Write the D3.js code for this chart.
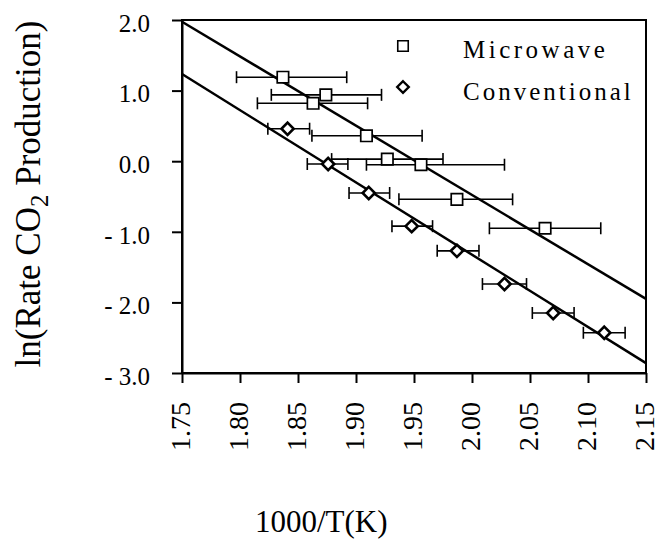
<!DOCTYPE html>
<html>
<head>
<meta charset="utf-8">
<script src="https://cdn.jsdelivr.net/npm/d3@7"></script>
<style>
  body { margin: 0; background: #fff; }
</style>
</head>
<body>
<div id="chart"></div>
<script>
// Microwave heating (squares)
const microX = [1.837, 1.874, 1.863, 1.909, 1.927, 1.956, 1.987, 2.063];
const microY = [1.19, 0.94, 0.82, 0.36, 0.03, -0.05, -0.54, -0.95];
const microLo = [1.797, 1.827, 1.815, 1.862, 1.879, 1.909, 1.937, 2.015];
const microHi = [1.892, 1.922, 1.910, 1.957, 1.975, 2.028, 2.035, 2.111];

// Conventional heating (diamonds)
const convX = [1.841, 1.876, 1.911, 1.948, 1.987, 2.028, 2.070, 2.114];
const convY = [0.46, -0.04, -0.45, -0.92, -1.27, -1.74, -2.15, -2.43];
const convLo = [1.824, 1.858, 1.894, 1.931, 1.970, 2.009, 2.052, 2.096];
const convHi = [1.860, 1.893, 1.929, 1.966, 2.006, 2.047, 2.088, 2.132];

// linear fits, value at each end of the x range
const fitX = [1.75, 2.15];
const microFit = [1.975, -1.95];
const convFit = [1.235, -2.86];

const xTicks = [1.75, 1.80, 1.85, 1.90, 1.95, 2.00, 2.05, 2.10, 2.15];
const yTicks = [2, 1, 0, -1, -2, -3];

const serif = '"Liberation Serif", "Times New Roman", serif';

const margin = { top: 20, right: 16, bottom: 169, left: 182 };
const width = 662 - margin.left - margin.right;
const height = 542 - margin.top - margin.bottom;

const svg = d3.select("#chart")
  .append("svg")
  .attr("width", 662)
  .attr("height", 542)
  .style("font-family", serif)
  .append("g")
  .attr("transform", `translate(${margin.left},${margin.top})`);

const x = d3.scaleLinear().domain([1.75, 2.15]).range([0, width]);
const y = d3.scaleLinear().domain([-3, 2]).range([height, 0]);

// frame
svg.append("rect")
  .attr("width", width)
  .attr("height", height)
  .attr("fill", "none")
  .attr("stroke", "#000")
  .attr("stroke-width", 2);

// Y axis
const yAxis = svg.append("g")
  .call(d3.axisLeft(y).tickValues(yTicks).tickSize(10).tickSizeOuter(0)
    .tickFormat(d => d < 0 ? "- " + d3.format(".1f")(-d) : d3.format(".1f")(d)))
  .attr("font-family", serif);
yAxis.select(".domain").attr("stroke-width", 2);
yAxis.selectAll(".tick line").attr("stroke-width", 2);
yAxis.selectAll(".tick text")
  .attr("x", -32)
  .attr("dy", "0.45em")
  .style("font-family", serif)
  .style("font-size", "25px");

// X axis
const xAxis = svg.append("g")
  .attr("transform", `translate(0,${height})`)
  .call(d3.axisBottom(x).tickValues(xTicks).tickSize(10).tickSizeOuter(0)
    .tickFormat(d3.format(".2f")))
  .attr("font-family", serif);
xAxis.select(".domain").attr("stroke-width", 2);
xAxis.selectAll(".tick line").attr("stroke-width", 2);
xAxis.selectAll(".tick text")
  .attr("transform", "rotate(-90)")
  .attr("x", -29)
  .attr("y", 0)
  .attr("dy", "0.28em")
  .attr("text-anchor", "end")
  .style("font-family", serif)
  .style("font-size", "28px");

// axis titles
svg.append("text")
  .attr("x", x(1.87))
  .attr("y", height + 159)
  .attr("text-anchor", "middle")
  .style("font-family", serif)
  .style("font-size", "31px")
  .text("1000/T(K)");

const yTitle = svg.append("text")
  .attr("transform", `translate(${40 - margin.left},${194 - margin.top}) rotate(-90)`)
  .attr("text-anchor", "middle")
  .style("font-family", serif)
  .style("font-size", "35px");
yTitle.append("tspan").text("ln(Rate CO");
yTitle.append("tspan").attr("dy", "0.3em").style("font-size", "25px").text("2");
yTitle.append("tspan").attr("dy", "-0.21em").text(" Production)");

// fit lines
const line = d3.line().x(d => x(d[0])).y(d => y(d[1]));
[microFit, convFit].forEach(f => {
  svg.append("path")
    .datum(fitX.map((v, i) => [v, f[i]]))
    .attr("d", line)
    .attr("fill", "none")
    .attr("stroke", "#000")
    .attr("stroke-width", 2.5);
});

// error bars
function errorBars(xs, ys, lo, hi) {
  const g = svg.append("g").attr("stroke", "#000").attr("stroke-width", 1.6);
  xs.forEach((d, i) => {
    const cy = y(ys[i]);
    g.append("line").attr("x1", x(lo[i])).attr("x2", x(hi[i])).attr("y1", cy).attr("y2", cy);
    g.append("line").attr("x1", x(lo[i])).attr("x2", x(lo[i])).attr("y1", cy - 6).attr("y2", cy + 6);
    g.append("line").attr("x1", x(hi[i])).attr("x2", x(hi[i])).attr("y1", cy - 6).attr("y2", cy + 6);
  });
}
errorBars(microX, microY, microLo, microHi);
errorBars(convX, convY, convLo, convHi);

// markers
const square = d3.symbol().type(d3.symbolSquare).size(130);
const diamond = d3.symbol().type(d3.symbolDiamond2).size(95);

svg.selectAll(".micro")
  .data(microX)
  .join("path")
  .attr("class", "micro")
  .attr("d", square)
  .attr("transform", (d, i) => `translate(${x(d)},${y(microY[i])})`)
  .attr("fill", "#fff")
  .attr("stroke", "#000")
  .attr("stroke-width", 1.7);

svg.selectAll(".conv")
  .data(convX)
  .join("path")
  .attr("class", "conv")
  .attr("d", diamond)
  .attr("transform", (d, i) => `translate(${x(d)},${y(convY[i])})`)
  .attr("fill", "#fff")
  .attr("stroke", "#000")
  .attr("stroke-width", 2.6);

// legend
const legend = svg.append("g").attr("transform", `translate(${403 - margin.left},0)`);
legend.append("path")
  .attr("d", d3.symbol().type(d3.symbolSquare).size(110))
  .attr("transform", `translate(0,${46 - margin.top})`)
  .attr("fill", "#fff").attr("stroke", "#000").attr("stroke-width", 1.6);
legend.append("path")
  .attr("d", d3.symbol().type(d3.symbolDiamond2).size(85))
  .attr("transform", `translate(0,${87 - margin.top})`)
  .attr("fill", "#fff").attr("stroke", "#000").attr("stroke-width", 2.4);
legend.append("text")
  .attr("x", 60).attr("y", 58 - margin.top)
  .style("font-family", serif)
  .style("font-size", "25px").style("letter-spacing", "3.5px")
  .text("Microwave");
legend.append("text")
  .attr("x", 60).attr("y", 100 - margin.top)
  .style("font-family", serif)
  .style("font-size", "25px").style("letter-spacing", "3px")
  .text("Conventional");
</script>
</body>
</html>
